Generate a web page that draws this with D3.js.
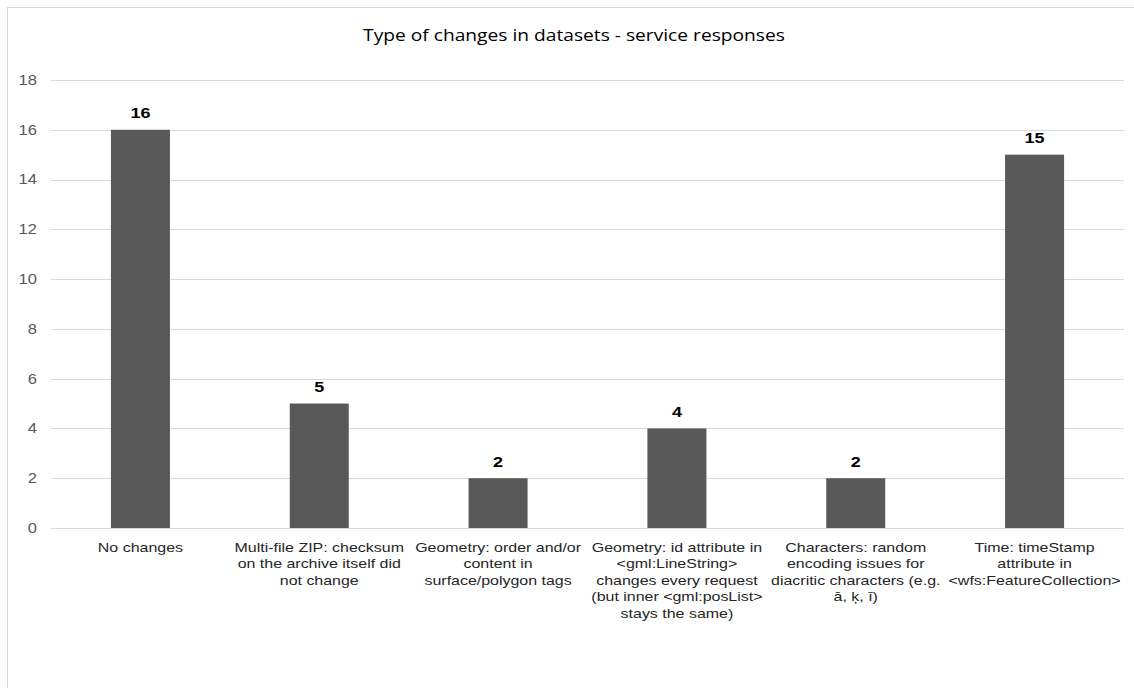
<!DOCTYPE html>
<html>
<head>
<meta charset="utf-8">
<script src="https://cdn.jsdelivr.net/npm/d3@7"></script>
<style>
  html, body { margin: 0; padding: 0; background: #fff; }
  svg { display: block; }
</style>
</head>
<body>
<svg id="chart" width="1134" height="688"></svg>
<script>
// Category labels, pre-broken into lines as they appear under each bar
const categories = [
  ["No changes"],
  ["Multi-file ZIP: checksum", "on the archive itself did", "not change"],
  ["Geometry: order and/or", "content in", "surface/polygon tags"],
  ["Geometry: id attribute in", "<gml:LineString>", "changes every request", "(but inner <gml:posList>", "stays the same)"],
  ["Characters: random", "encoding issues for", "diacritic characters (e.g.", "ā, ķ, ī)"],
  ["Time: timeStamp", "attribute in", "<wfs:FeatureCollection>"]
];
const values = [16, 5, 2, 4, 2, 15];
const yTicks = [0, 2, 4, 6, 8, 10, 12, 14, 16, 18];
const title = "Type of changes in datasets - service responses";

const svg = d3.select("#chart");
const W = 1134, H = 688;
const plotLeft = 51, plotRight = 1124, plotTop = 80, plotBottom = 528;
const SX = 1.2; // horizontal text stretch
const sans = "'Liberation Sans', Arial, sans-serif";

// Chart frame
svg.append("rect")
  .attr("x", 7.5).attr("y", 7.5)
  .attr("width", W + 10).attr("height", H + 10)
  .attr("fill", "#fff").attr("stroke", "#d9d9d9").attr("stroke-width", 1);

const x = d3.scaleBand()
  .domain(d3.range(categories.length))
  .range([plotLeft, plotRight])
  .paddingInner(0.67).paddingOuter(0.335);

const y = d3.scaleLinear()
  .domain([0, 18])
  .range([plotBottom, plotTop]);

// Title
svg.append("text")
  .attr("transform", `translate(574,40.5) scale(${SX},1)`)
  .attr("text-anchor", "middle")
  .attr("font-family", "'Open Sans', sans-serif")
  .attr("font-size", 16)
  .attr("fill", "#000")
  .text(title);

// Horizontal gridlines
svg.append("g")
  .selectAll("line")
  .data(yTicks)
  .join("line")
  .attr("x1", plotLeft).attr("x2", plotRight)
  .attr("y1", d => Math.round(y(d)) + 0.5)
  .attr("y2", d => Math.round(y(d)) + 0.5)
  .attr("stroke", "#d9d9d9").attr("stroke-width", 1);

// Y axis labels
const yAxis = d3.axisLeft(y).tickValues(yTicks).tickSize(0).tickPadding(0);
const gy = svg.append("g")
  .attr("transform", `translate(37,0)`)
  .call(yAxis);
gy.select(".domain").remove();
gy.selectAll(".tick text")
  .attr("x", null)
  .attr("transform", `scale(${SX},1)`)
  .attr("font-family", sans)
  .attr("font-size", 13.8)
  .attr("fill", "#595959");

// Bars
svg.append("g")
  .selectAll("rect")
  .data(values)
  .join("rect")
  .attr("x", (d, i) => x(i))
  .attr("width", x.bandwidth())
  .attr("y", d => y(d))
  .attr("height", d => y(0) - y(d))
  .attr("fill", "#595959");

// Value labels
svg.append("g")
  .selectAll("text")
  .data(values)
  .join("text")
  .attr("transform", (d, i) => `translate(${x(i) + x.bandwidth() / 2},${y(d) - 11.5}) scale(${SX},1)`)
  .attr("text-anchor", "middle")
  .attr("font-family", sans)
  .attr("font-weight", "bold")
  .attr("font-size", 15)
  .attr("fill", "#000")
  .text(d => d);

// X axis category labels
const xl = svg.append("g")
  .selectAll("text")
  .data(categories)
  .join("text")
  .attr("transform", (d, i) => `translate(${x(i) + x.bandwidth() / 2},552) scale(${SX},1)`)
  .attr("text-anchor", "middle")
  .attr("font-family", sans)
  .attr("font-size", 13.3)
  .attr("fill", "#262626");
xl.each(function(lines) {
  const t = d3.select(this);
  lines.forEach((ln, k) => {
    t.append("tspan")
      .attr("x", 0)
      .attr("dy", k === 0 ? 0 : 16.5)
      .text(ln);
  });
});
</script>
</body>
</html>
